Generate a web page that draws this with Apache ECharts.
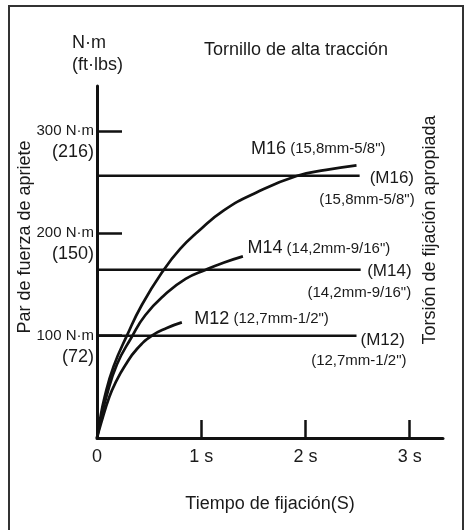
<!DOCTYPE html>
<html>
<head>
<meta charset="utf-8">
<title>Tornillo de alta tracción</title>
<script src="https://cdn.jsdelivr.net/npm/echarts@6.0.0/dist/echarts.min.js"></script>
<style>
  html, body { margin: 0; padding: 0; background: #fff; }
  #chart { width: 469px; height: 530px; }
</style>
</head>
<body>
<div id="chart"></div>
<script>
// ejes
const xMax = 3.32;
const yMax = 344;
const xTickValues = [0, 1, 2, 3];
const xTickLabels = ['0', '1 s', '2 s', '3 s'];
const yTickValues = [100, 200, 300];
const yTickNm = ['100 N·m', '200 N·m', '300 N·m'];
const yTickFt = ['(72)', '(150)', '(216)'];

// curvas de apriete [t (s), par (N·m)]
const m16Curve = [[0, 0], [0.022, 14], [0.073, 40], [0.159, 70], [0.287, 100], [0.43, 130], [0.638, 164], [0.8, 185], [0.973, 202], [1.21, 222], [1.53, 240], [1.915, 256], [2.2, 262], [2.49, 266.5]];
const m14Curve = [[0, 0], [0.029, 14], [0.089, 40], [0.192, 72], [0.329, 98], [0.463, 120], [0.65, 140], [0.85, 155.5], [1.045, 164.5], [1.22, 171.5], [1.4, 177.5]];
const m12Curve = [[0, 0], [0.038, 14], [0.118, 40], [0.182, 55], [0.271, 71], [0.383, 87], [0.527, 100], [0.67, 107.5], [0.814, 113]];

// torsión de fijación apropiada
const m16Level = [[0, 256.3], [2.52, 256.3]];
const m14Level = [[0, 164.4], [2.53, 164.4]];
const m12Level = [[0, 100], [2.49, 100]];

const curveNames = ['M16', 'M14', 'M12'];
const sizeNames = ['(15,8mm-5/8")', '(14,2mm-9/16")', '(12,7mm-1/2")'];

const FONT = '"Liberation Sans", Arial, Helvetica, sans-serif';
const INK = '#111';
const TXT = '#1a1a1a';

function curveSeries(name, data, size, pos) {
  return {
    name: name,
    type: 'line',
    data: data,
    smooth: 0.5,
    showSymbol: false,
    symbol: 'none',
    lineStyle: { color: INK, width: 2.7 },
    markPoint: {
      symbol: 'circle',
      symbolSize: 1,
      itemStyle: { color: 'transparent' },
      data: [{
        coord: data[data.length - 1],
        label: {
          show: true,
          position: pos,
          align: 'left',
          verticalAlign: 'middle',
          fontFamily: FONT,
          fontSize: 15,
          color: TXT,
          formatter: '{a|' + name + '} {b|' + size + '}',
          rich: {
            a: { fontSize: 18, fontFamily: FONT, color: TXT },
            b: { fontSize: 15, fontFamily: FONT, color: TXT },
          },
        },
      }],
    },
  };
}

function levelSeries(name, data, size, posName, posSize) {
  const end = data[data.length - 1];
  return {
    name: '(' + name + ')',
    type: 'line',
    data: data,
    showSymbol: false,
    symbol: 'none',
    lineStyle: { color: INK, width: 2.5 },
    markPoint: {
      symbol: 'circle',
      symbolSize: 1,
      itemStyle: { color: 'transparent' },
      data: [
        {
          coord: end,
          label: {
            show: true, position: posName, align: 'left', verticalAlign: 'middle',
            fontFamily: FONT, fontSize: 17, color: TXT,
            formatter: '(' + name + ')',
          },
        },
        {
          coord: end,
          label: {
            show: true, position: posSize, align: 'right', verticalAlign: 'middle',
            fontFamily: FONT, fontSize: 15, color: TXT,
            formatter: size,
          },
        },
      ],
    },
  };
}

const chart = echarts.init(document.getElementById('chart'));

const option = {
  animation: false,
  textStyle: { fontFamily: FONT },
  grid: { left: 97, right: 26, top: 86, bottom: 92 },
  xAxis: {
    type: 'value',
    min: 0,
    max: xMax,
    name: 'Tiempo de fijación(S)',
    nameLocation: 'middle',
    nameGap: 57,
    nameTextStyle: { fontSize: 18, color: TXT, fontFamily: FONT },
    axisLine: { show: true, lineStyle: { color: INK, width: 3 } },
    axisTick: { show: true, inside: true, length: 18, customValues: [1, 2, 3], lineStyle: { color: INK, width: 2.5 } },
    axisLabel: {
      customValues: xTickValues,
      margin: 10,
      fontSize: 18,
      color: TXT,
      fontFamily: FONT,
      formatter: v => xTickLabels[xTickValues.indexOf(v)] || '',
    },
    splitLine: { show: false },
  },
  yAxis: {
    type: 'value',
    min: 0,
    max: yMax,
    axisLine: { show: true, lineStyle: { color: INK, width: 3 } },
    axisTick: { show: true, inside: true, length: 25, customValues: yTickValues, lineStyle: { color: INK, width: 2.5 } },
    axisLabel: {
      customValues: yTickValues,
      margin: 3,
      align: 'right',
      verticalAlign: 'middle',
      fontFamily: FONT,
      formatter: v => {
        const i = yTickValues.indexOf(v);
        if (i < 0) return '';
        return '{e| }\n{a|' + yTickNm[i] + '}\n{b|' + yTickFt[i] + '}';
      },
      rich: {
        e: { fontSize: 10, lineHeight: 22 },
        a: { fontSize: 15, lineHeight: 20, color: TXT, fontFamily: FONT, align: 'right' },
        b: { fontSize: 18, lineHeight: 22, color: TXT, fontFamily: FONT, align: 'right' },
      },
    },
    splitLine: { show: false },
  },
  graphic: [
    {
      type: 'rect',
      shape: { x: 9, y: 6, width: 454, height: 540 },
      style: { fill: 'none', stroke: '#333', lineWidth: 2 },
      silent: true,
    },
    {
      type: 'text', x: 296, y: 50,
      style: { text: 'Tornillo de alta tracción', font: '18px ' + FONT, fill: TXT, textAlign: 'center', textVerticalAlign: 'middle' },
    },
    {
      type: 'text', x: 72, y: 43.5,
      style: { text: 'N·m', font: '18px ' + FONT, fill: TXT, textAlign: 'left', textVerticalAlign: 'middle' },
    },
    {
      type: 'text', x: 72, y: 65.5,
      style: { text: '(ft·lbs)', font: '18px ' + FONT, fill: TXT, textAlign: 'left', textVerticalAlign: 'middle' },
    },
    {
      type: 'text', x: 25, y: 237, rotation: Math.PI / 2,
      style: { text: 'Par de fuerza de apriete', font: '18px ' + FONT, fill: TXT, textAlign: 'center', textVerticalAlign: 'middle' },
    },
    {
      type: 'text', x: 430, y: 230, rotation: Math.PI / 2,
      style: { text: 'Torsión de fijación apropiada', font: '18px ' + FONT, fill: TXT, textAlign: 'center', textVerticalAlign: 'middle' },
    },
  ],
  series: [
    levelSeries(curveNames[0], m16Level, sizeNames[0], [10.5, 3], [55.5, 25]),
    levelSeries(curveNames[1], m14Level, sizeNames[1], [7, 2], [51, 24]),
    levelSeries(curveNames[2], m12Level, sizeNames[2], [4.5, 5], [50.5, 26]),
    curveSeries(curveNames[0], m16Curve, sizeNames[0], [-105, -15.5]),
    curveSeries(curveNames[1], m14Curve, sizeNames[1], [5, -7.5]),
    curveSeries(curveNames[2], m12Curve, sizeNames[2], [13, -3]),
  ],
};

chart.setOption(option);
</script>
</body>
</html>
